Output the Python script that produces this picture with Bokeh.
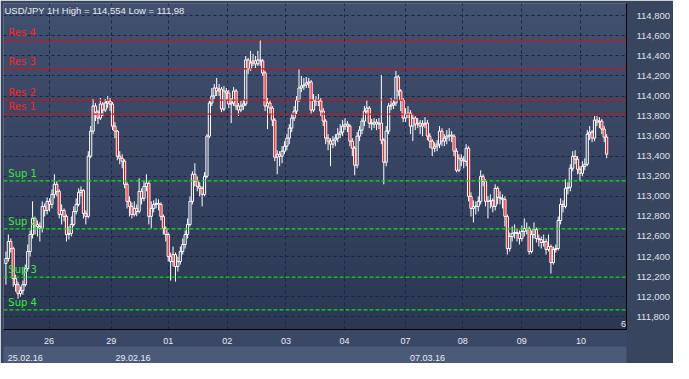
import numpy as np
import pandas as pd
from bokeh.plotting import figure
from bokeh.models import ColumnDataSource, Span, Label, LinearAxis, FixedTicker, BoxAnnotation, Range1d
from bokeh.embed import file_html
from bokeh.resources import INLINE

# ---------------- data ----------------
title_text = "USD/JPY 1H High = 114,554 Low = 111,98"

first_open = 112.33
closes = [
    # 25.02
    112.38, 112.55, 112.48, 112.18, 112.12, 112.03, 112.06, 112.12, 112.28, 112.45,
    112.62, 112.78, 112.72, 112.70, 112.68, 112.90, 112.86, 112.95,
    # 26.02
    112.92, 113.02, 113.12, 113.05, 112.82, 112.86, 112.80, 112.62, 112.63, 112.72,
    112.85, 112.92, 113.04, 113.06, 112.83, 112.80, 113.40, 113.65, 113.90, 113.84,
    113.78, 113.92, 113.86, 113.93, 113.95, 113.92,
    # 29.02
    113.70, 113.65, 113.40, 113.38, 113.35, 113.12, 112.95, 112.90, 112.82, 112.88,
    112.85, 113.05, 112.98, 113.10, 113.13, 112.80, 112.88, 112.92, 112.93, 112.92,
    112.80, 112.68, 112.62,
    # 01.03
    112.40, 112.35, 112.42, 112.30, 112.35, 112.45, 112.52, 112.62, 112.72, 112.95,
    113.22, 113.15, 113.10, 113.08, 113.02, 113.20, 113.60, 113.93, 114.00, 114.08,
    114.05, 114.07, 113.87, 114.05,
    # 02.03
    114.03, 113.92, 113.93, 114.05, 113.90, 113.86, 113.90, 113.92, 114.36, 114.27,
    114.33, 114.35, 114.32, 114.36, 114.35, 114.23, 113.90, 113.93, 113.88, 113.76,
    113.39, 113.42, 113.40, 113.45, 113.50,
    # 03.03
    113.58, 113.68, 113.78, 113.85, 113.96, 114.08, 114.10, 114.11, 114.13, 114.14,
    113.86, 113.95, 113.96, 113.95, 113.85, 113.75, 113.58, 113.55, 113.52, 113.56,
    113.58, 113.62, 113.64, 113.70,
    # 04.03
    113.72, 113.70, 113.55, 113.48, 113.31, 113.60, 113.66, 113.75, 113.85, 113.88,
    113.73, 113.72, 113.74, 113.72, 113.73, 113.56, 113.34, 113.65, 113.90, 113.91,
    113.93, 114.19, 114.05, 113.96, 113.78,
    # 07.03
    113.82, 113.83, 113.70, 113.78, 113.72, 113.73, 113.70, 113.72, 113.73, 113.60,
    113.55, 113.48, 113.50, 113.52, 113.65, 113.55, 113.58, 113.60, 113.61, 113.60,
    113.45, 113.26, 113.38, 113.36,
    # 08.03
    113.35, 113.48, 113.00, 112.88, 112.90, 112.90, 112.95, 113.20, 113.15, 112.95,
    112.95, 112.96, 112.90, 113.08, 112.99, 112.98, 112.97, 112.80, 112.48, 112.60,
    112.63, 112.64, 112.63, 112.58,
    # 09.03
    112.65, 112.68, 112.68, 112.45, 112.62, 112.67, 112.58, 112.57, 112.54, 112.55,
    112.47, 112.50, 112.34, 112.47, 112.48, 112.76, 112.92, 112.90, 113.08, 113.09,
    113.28, 113.40, 113.37, 113.27,
    # 10.03
    113.23, 113.30, 113.32, 113.62, 113.64, 113.58, 113.76, 113.74, 113.75, 113.67,
    113.59, 113.42,
]
highs = [
    112.45, 112.62, 112.58, 112.50, 112.22, 112.15, 112.10, 112.16, 112.32, 112.52,
    112.66, 112.95, 112.80, 112.76, 112.74, 112.95, 112.93, 112.99,
    112.98, 113.07, 113.22, 113.15, 113.07, 112.92, 112.88, 112.82, 112.70, 112.80,
    112.90, 112.98, 113.08, 113.10, 113.07, 112.86, 113.45, 113.70, 113.97, 113.93,
    113.86, 113.98, 113.94, 113.97, 114.00, 113.98,
    113.94, 113.74, 113.66, 113.45, 113.42, 113.37, 113.14, 113.00, 112.94, 112.95,
    112.92, 113.18, 113.08, 113.15, 113.22, 113.15, 112.95, 112.96, 112.98, 112.97,
    112.94, 112.82, 112.70,
    112.64, 112.44, 112.50, 112.44, 112.40, 112.50, 112.58, 112.66, 112.78, 113.00,
    113.25, 113.33, 113.20, 113.14, 113.10, 113.24, 113.62, 113.96, 114.08, 114.12,
    114.18, 114.12, 114.09, 114.10,
    114.08, 114.06, 113.98, 114.09, 114.07, 113.93, 113.95, 113.96, 114.40, 114.38,
    114.45, 114.42, 114.40, 114.45, 114.554, 114.37, 114.25, 113.98, 113.96, 113.90,
    113.78, 113.46, 113.45, 113.50, 113.55,
    113.62, 113.72, 113.82, 113.90, 114.00, 114.27, 114.20, 114.18, 114.19, 114.18,
    114.16, 114.02, 114.00, 114.02, 113.98, 113.88, 113.77, 113.62, 113.58, 113.60,
    113.62, 113.68, 113.72, 113.76,
    113.78, 113.75, 113.72, 113.58, 113.50, 113.64, 113.70, 113.78, 113.90, 113.96,
    113.90, 113.77, 113.78, 113.77, 113.78, 114.21, 113.58, 113.70, 113.93, 113.98,
    113.96, 114.25, 114.21, 114.07, 113.98,
    113.88, 113.90, 113.86, 113.82, 113.80, 113.78, 113.76, 113.76, 113.79, 113.76,
    113.63, 113.57, 113.54, 113.56, 113.70, 113.68, 113.62, 113.66, 113.68, 113.65,
    113.62, 113.48, 113.42, 113.42,
    113.40, 113.52, 113.50, 113.04, 112.96, 112.95, 113.00, 113.26, 113.22, 113.17,
    113.00, 113.02, 112.98, 113.12, 113.10, 113.05, 113.02, 113.00, 112.82, 112.64,
    112.70, 112.72, 112.68, 112.66,
    112.71, 112.78, 112.74, 112.70, 112.66, 112.74, 112.69, 112.62, 112.60, 112.62,
    112.58, 112.62, 112.52, 112.50, 112.52, 112.80, 112.98, 112.96, 113.17, 113.14,
    113.32, 113.45, 113.46, 113.40,
    113.30, 113.35, 113.38, 113.66, 113.70, 113.66, 113.80, 113.80, 113.79, 113.77,
    113.70, 113.62,
]
lows = [
    112.12, 112.35, 112.44, 112.10, 112.05, 111.98, 112.00, 112.02, 112.10, 112.25,
    112.40, 112.58, 112.62, 112.60, 112.55, 112.64, 112.80, 112.82,
    112.85, 112.88, 112.98, 113.00, 112.78, 112.72, 112.75, 112.55, 112.57, 112.60,
    112.70, 112.82, 112.90, 113.00, 112.78, 112.72, 112.78, 113.38, 113.62, 113.75,
    113.72, 113.76, 113.80, 113.84, 113.88, 113.85,
    113.66, 113.58, 113.36, 113.32, 113.28, 113.08, 112.88, 112.80, 112.78, 112.80,
    112.80, 112.83, 112.92, 112.95, 113.05, 112.72, 112.68, 112.84, 112.88, 112.86,
    112.76, 112.62, 112.55,
    112.35, 112.16, 112.30, 112.15, 112.25, 112.32, 112.42, 112.48, 112.58, 112.70,
    112.92, 113.10, 113.05, 113.00, 112.90, 113.00, 113.18, 113.58, 113.90, 113.97,
    114.00, 114.00, 113.84, 113.85,
    113.96, 113.88, 113.73, 113.90, 113.86, 113.80, 113.84, 113.86, 113.90, 114.22,
    114.25, 114.30, 114.28, 114.30, 114.30, 114.20, 113.85, 113.67, 113.82, 113.70,
    113.35, 113.22, 113.30, 113.33, 113.42,
    113.46, 113.52, 113.64, 113.75, 113.82, 113.94, 114.04, 114.06, 114.08, 114.08,
    113.82, 113.84, 113.90, 113.90, 113.80, 113.70, 113.52, 113.46, 113.30, 113.48,
    113.50, 113.54, 113.58, 113.60,
    113.66, 113.64, 113.50, 113.40, 113.21, 113.28, 113.55, 113.62, 113.70, 113.82,
    113.68, 113.66, 113.68, 113.66, 113.67, 113.52, 113.12, 113.30, 113.62, 113.86,
    113.87, 113.90, 114.00, 113.85, 113.74,
    113.74, 113.78, 113.62, 113.55, 113.66, 113.68, 113.62, 113.60, 113.68, 113.56,
    113.48, 113.40, 113.44, 113.45, 113.48, 113.50, 113.50, 113.52, 113.55, 113.54,
    113.40, 113.24, 113.24, 113.30,
    113.28, 113.30, 112.95, 112.80, 112.74, 112.82, 112.85, 112.92, 113.10, 112.90,
    112.78, 112.88, 112.84, 112.86, 112.92, 112.92, 112.88, 112.70, 112.42, 112.45,
    112.55, 112.58, 112.55, 112.52,
    112.55, 112.60, 112.62, 112.42, 112.43, 112.58, 112.54, 112.50, 112.48, 112.50,
    112.42, 112.45, 112.23, 112.32, 112.44, 112.46, 112.72, 112.84, 112.88, 113.02,
    113.05, 113.25, 113.32, 113.22,
    113.15, 113.20, 113.26, 113.30, 113.56, 113.54, 113.55, 113.70, 113.68, 113.62,
    113.54, 113.38,
]

day_bounds = [17.8, 43.5, 67.0, 91.4, 115.6, 139.8, 165.0, 188.6, 213.0, 237.4]
day_labels = ["26", "29", "01", "02", "03", "04", "07", "08", "09", "10"]
week_bounds = [-1.0, 43.5, 165.0]
week_labels = ["25.02.16", "29.02.16", "07.03.16"]

res_levels = [113.82, 113.96, 114.27, 114.554]
res_names = ["Res 1", "Res 2", "Res 3", "Res 4"]
sup_levels = [113.155, 112.675, 112.195, 111.868]
sup_names = ["Sup 1", "Sup 2", "Sup 3", "Sup 4"]

y_ticks = [111.8, 112.0, 112.2, 112.4, 112.6, 112.8, 113.0, 113.2,
           113.4, 113.6, 113.8, 114.0, 114.2, 114.4, 114.6, 114.8]
y_tick_labels = ["111,800", "112,000", "112,200", "112,400", "112,600", "112,800",
                 "113,000", "113,200", "113,400", "113,600", "113,800", "114,000",
                 "114,200", "114,400", "114,600", "114,800"]

page_counter = "6"

# ---------------- build ----------------
c = np.array(closes)
o = np.concatenate([[first_open], c[:-1]])
h = np.maximum(np.array(highs), np.maximum(o, c))
l = np.minimum(np.array(lows), np.minimum(o, c))
x = np.arange(len(c))
df = pd.DataFrame(dict(x=x, open=o, close=c, high=h, low=l))
df["top"] = np.maximum(df.open, df.close)
df["bottom"] = np.minimum(df.open, df.close)
df["fa"] = np.where(df.close < df.open, 1.0, 0.0)
src = ColumnDataSource(df)

Y0, Y1 = 111.673, 114.922
p = figure(width=673, height=363, output_backend="svg", toolbar_location=None,
           x_range=Range1d(-1, 256.2), y_range=Range1d(Y0, Y1),
           y_axis_location="right", min_border_left=3, min_border_top=3,
           min_border_right=42, min_border_bottom=29)
p.background_fill_color = "#35435f"
p.border_fill_color = "#37455f"
p.outline_line_color = None

# vertical gradient of the chart background
n_bands = 30
top_rgb = np.array([0x41, 0x50, 0x6f])
bot_rgb = np.array([0x2b, 0x38, 0x53])
for k in range(n_bands):
    t = k / (n_bands - 1)
    col = top_rgb * (1 - t) + bot_rgb * t
    hexc = "#%02x%02x%02x" % tuple(int(round(v)) for v in col)
    b_top = Y1 - (Y1 - Y0) * k / n_bands
    b_bot = Y1 - (Y1 - Y0) * (k + 1) / n_bands - 0.002
    p.add_layout(BoxAnnotation(top=b_top, bottom=b_bot, fill_color=hexc, fill_alpha=1,
                               line_alpha=0, level="image"))

# grid
p.xgrid.ticker = FixedTicker(ticks=day_bounds)
p.ygrid.ticker = FixedTicker(ticks=y_ticks)
for g in (p.xgrid[0], p.ygrid[0]):
    g.grid_line_color = "#17274a"
    g.grid_line_dash = "3 3"
    g.grid_line_width = 1

# right price axis
ya = p.yaxis[0]
ya.ticker = FixedTicker(ticks=y_ticks)
ya.major_label_overrides = {t: s for t, s in zip(y_ticks, y_tick_labels)}
ya.major_tick_line_color = None
ya.minor_tick_line_color = None
ya.axis_line_color = "black"
ya.major_label_standoff = 4
ya.major_label_text_font = "Liberation Sans"
ya.major_label_text_font_size = "9.5px"
ya.major_label_text_color = "#dde2ea"

# bottom day axis
xa = p.xaxis[0]
xa.ticker = FixedTicker(ticks=day_bounds)
xa.major_label_overrides = {t: s for t, s in zip(day_bounds, day_labels)}
xa.major_tick_line_color = None
xa.minor_tick_line_color = None
xa.axis_line_color = "black"
xa.major_label_standoff = 2
xa.major_label_text_font = "Liberation Sans"
xa.major_label_text_font_size = "9px"
xa.major_label_text_color = "#e8ecf2"
xa.background_fill_color = "#3a4866"
xa.background_fill_alpha = 1.0

# bottom date axis (labels centred a few bars after each week start)
date_pos = [w + 9.0 for w in week_bounds]
xb = LinearAxis(ticker=FixedTicker(ticks=date_pos),
                major_label_overrides={t: s for t, s in zip(date_pos, week_labels)})
xb.major_tick_line_color = None
xb.minor_tick_line_color = None
xb.axis_line_color = None
xb.major_label_standoff = 2
xb.major_label_text_font = "Liberation Sans"
xb.major_label_text_font_size = "9px"
xb.major_label_text_color = "#e8ecf2"
xb.background_fill_color = "#4b5a78"
xb.background_fill_alpha = 1.0
p.add_layout(xb, "below")

# candles
p.segment(x0="x", y0="high", x1="x", y1="top", source=src, line_color="white", line_width=1)
p.segment(x0="x", y0="bottom", x1="x", y1="low", source=src, line_color="white", line_width=1)
p.vbar(x="x", width=0.9, top="top", bottom="bottom", source=src,
       fill_color="#ff0000", fill_alpha="fa", line_color="white", line_width=1)

# support / resistance levels
for lev, name in zip(res_levels, res_names):
    p.add_layout(Span(location=lev, dimension="width", line_color="#ff0000",
                      line_dash="4 2", line_width=1.2))
    p.add_layout(Label(x=1.0, y=lev, text=name, text_color="#ff2020",
                       text_font="DejaVu Sans", text_font_size="10px",
                       text_baseline="bottom", y_offset=2))
for lev, name in zip(sup_levels, sup_names):
    p.add_layout(Span(location=lev, dimension="width", line_color="#10e010",
                      line_dash="4 2", line_width=1.2))
    p.add_layout(Label(x=1.0, y=lev, text=name, text_color="#30f030",
                       text_font="DejaVu Sans", text_font_size="10px",
                       text_baseline="bottom", y_offset=2))

# title
p.add_layout(Label(x=-0.6, y=Y1, text=title_text, text_color="#e6eaf0",
                   text_font="Liberation Sans", text_font_size="9.5px",
                   text_baseline="top", y_offset=-1))

# bar counter in the lower right corner of the chart
p.add_layout(Label(x=620, y=3, x_units="screen", y_units="screen", text=page_counter,
                   text_color="#e6eaf0", text_font="Liberation Sans",
                   text_font_size="9px", text_align="center"))

open("out.html", "w").write(file_html(p, INLINE))
